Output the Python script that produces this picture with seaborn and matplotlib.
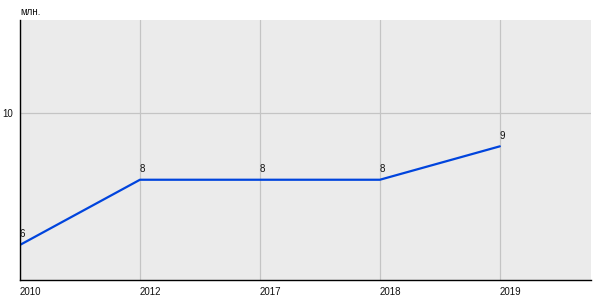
import matplotlib
matplotlib.use("Agg")
import matplotlib.pyplot as plt
import seaborn as sns
import pandas as pd

years = ["2010", "2012", "2017", "2018", "2019"]
values = [6.05, 8, 8, 8, 9]
labels = ["6", "8", "8", "8", "9"]
unit = "млн."

sns.set_theme(style="white")
plt.rcParams['font.family'] = ['Liberation Sans', 'DejaVu Sans']

df = pd.DataFrame({"year": years, "value": values})
df["pos"] = range(len(years))

fig = plt.figure(figsize=(6, 3), dpi=100)
ax = fig.add_axes([20/600, 20/300, 571/600, 260/300])
ax.set_facecolor("#ebebeb")

sns.lineplot(data=df, x="pos", y="value", ax=ax, color="#0044dd", linewidth=1.6)

fs = 7
for p, v, t in zip(df["pos"], values, labels):
    ax.annotate(t, (p, v), xytext=(0, 4), textcoords="offset points",
                ha="left", va="bottom", fontsize=fs, color="#111111")

ax.set_xlim(0, 4.76)
ax.set_ylim(5, 12.78)
ax.set_xticks(df["pos"])
ax.set_xticklabels(years, ha="left", fontsize=fs, color="#111111")
ax.set_yticks([10])
ax.set_yticklabels(["10"], fontsize=fs, color="#111111")
ax.tick_params(axis="x", length=0, pad=5)
ax.tick_params(axis="y", length=4, width=0.8, color="black", pad=1)
ax.grid(True, color="#c4c4c4", linewidth=0.9)
ax.set_axisbelow(True)
ax.set_xlabel("")
ax.set_ylabel("")
for s in ["top", "right"]:
    ax.spines[s].set_visible(False)
for s in ["left", "bottom"]:
    ax.spines[s].set_visible(True)
    ax.spines[s].set_color("black")
    ax.spines[s].set_linewidth(1.0)

fig.text(20/600, 1 - 12/300, unit, fontsize=fs, ha="left", va="center", color="#111111")

fig.savefig("out.png", dpi=100)
